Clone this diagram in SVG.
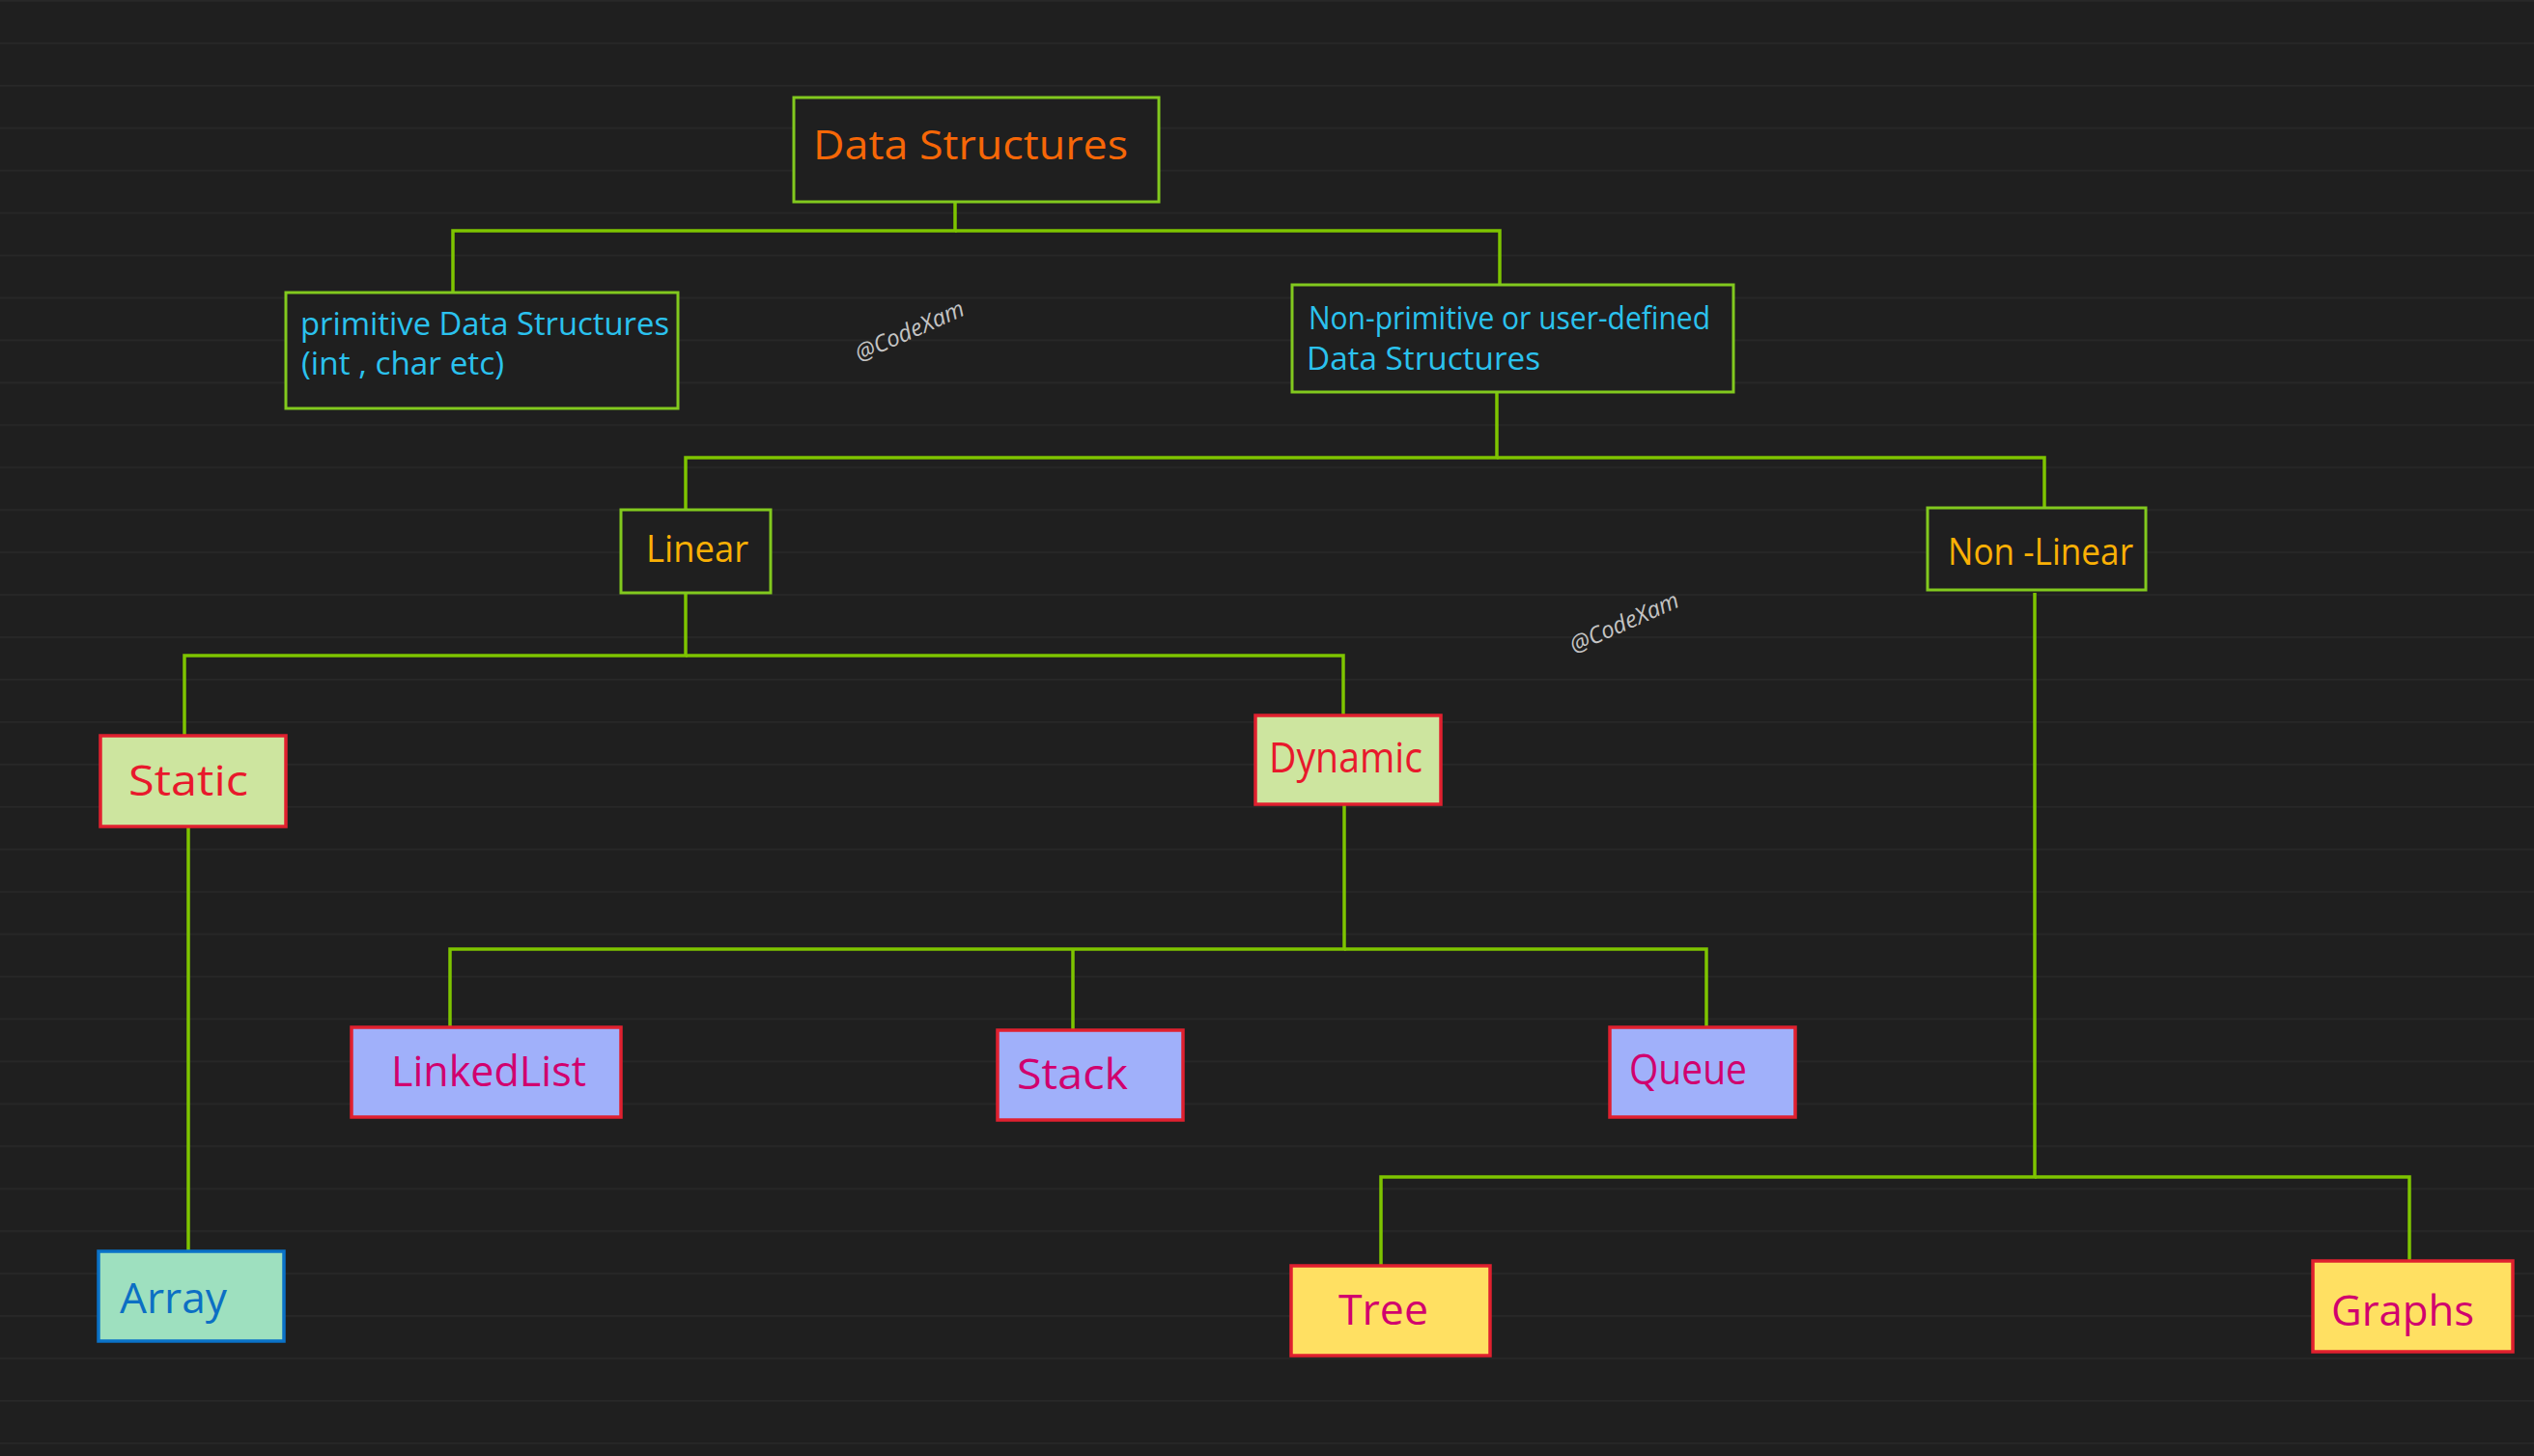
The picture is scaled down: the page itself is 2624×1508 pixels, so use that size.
<svg xmlns="http://www.w3.org/2000/svg" width="2624" height="1508" viewBox="0 0 2624 1508">
<defs>
<pattern id="grid" x="0" y="0" width="2624" height="43.94" patternUnits="userSpaceOnUse">
<rect x="0" y="0" width="2624" height="1.6" fill="#282828"/>
</pattern>
</defs>
<style>
.bg{fill:#1f1f1f}
.dark{fill:#1f1f1f;stroke:#82c91e;stroke-width:3}
.green{fill:#cde59f;stroke:#e0202f;stroke-width:3.5}
.purple{fill:#a0b0fa;stroke:#e0202f;stroke-width:3.5}
.yellow{fill:#ffe062;stroke:#e0202f;stroke-width:3.5}
.teal{fill:#9ee0bf;stroke:#0a72c8;stroke-width:3.5}
.conn path{fill:none;stroke:#7ec400;stroke-width:3.5;stroke-linejoin:miter}
text{font-family:"Open Sans","Noto Sans","DejaVu Sans",sans-serif}
.orange{fill:#f76707;font-size:42px}
.cyan{fill:#2bc2ee;font-size:32px}
.amber{fill:#fab005;font-size:38px}
.red{fill:#e8192c;font-size:44px}
.mag{fill:#d1006e;font-size:44px}
.blue{fill:#0c6fc4;font-size:44px}
.wm{fill:#c4c4c4;font-size:24px;font-style:italic}
</style>
<rect class="bg" x="0" y="0" width="2624" height="1508"/>
<rect x="0" y="0" width="2624" height="1508" fill="url(#grid)"/>

<g id="connectors" class="conn">
<path d="M989,209 V239 H469 V302"/>
<path d="M989,239 H1553 V295"/>
<path d="M1550,407 V474 H710 V527"/>
<path d="M1550,474 H2117 V526"/>
<path d="M710,614 V679 H191 V762"/>
<path d="M710,679 H1391 V740"/>
<path d="M195,857 V1295"/>
<path d="M1392,833 V983 H466 V1063"/>
<path d="M1111,983 V1066"/>
<path d="M1392,983 H1767 V1064"/>
<path d="M2107,614 V1219 H1430 V1311"/>
<path d="M2107,1219 H2495 V1306"/>
</g>

<g id="node-data-structures">
<rect class="dark" x="822" y="101" width="378" height="108"/>
<text class="orange" x="842" y="165" textLength="326" lengthAdjust="spacingAndGlyphs">Data Structures</text>
</g>

<g id="node-primitive">
<rect class="dark" x="296" y="303" width="406" height="120"/>
<text class="cyan" x="311" y="347" textLength="382" lengthAdjust="spacingAndGlyphs">primitive Data Structures</text>
<text class="cyan" x="312" y="388" textLength="210" lengthAdjust="spacingAndGlyphs">(int , char etc)</text>
</g>

<g id="node-non-primitive">
<rect class="dark" x="1338" y="295" width="457" height="111"/>
<text class="cyan" x="1355" y="341" textLength="416" lengthAdjust="spacingAndGlyphs">Non-primitive or user-defined</text>
<text class="cyan" x="1353" y="383" textLength="242" lengthAdjust="spacingAndGlyphs">Data Structures</text>
</g>

<g id="node-linear">
<rect class="dark" x="643" y="528" width="155" height="86"/>
<text class="amber" x="669" y="582" textLength="106" lengthAdjust="spacingAndGlyphs">Linear</text>
</g>

<g id="node-non-linear">
<rect class="dark" x="1996" y="526" width="226" height="85"/>
<text class="amber" x="2017" y="585" textLength="192" lengthAdjust="spacingAndGlyphs">Non -Linear</text>
</g>

<g id="node-static">
<rect class="green" x="104" y="762" width="192" height="94"/>
<text class="red" x="133" y="824" textLength="124" lengthAdjust="spacingAndGlyphs">Static</text>
</g>

<g id="node-dynamic">
<rect class="green" x="1300" y="741" width="192" height="92"/>
<text class="red" x="1314" y="800" textLength="159" lengthAdjust="spacingAndGlyphs">Dynamic</text>
</g>

<g id="node-linkedlist">
<rect class="purple" x="364" y="1064" width="279" height="93"/>
<text class="mag" x="405" y="1125" textLength="202" lengthAdjust="spacingAndGlyphs">LinkedList</text>
</g>

<g id="node-stack">
<rect class="purple" x="1033" y="1067" width="192" height="93"/>
<text class="mag" x="1053" y="1128" textLength="115" lengthAdjust="spacingAndGlyphs">Stack</text>
</g>

<g id="node-queue">
<rect class="purple" x="1667" y="1064" width="192" height="93"/>
<text class="mag" x="1687" y="1123" textLength="122" lengthAdjust="spacingAndGlyphs">Queue</text>
</g>

<g id="node-array">
<rect class="teal" x="102" y="1296" width="192" height="93"/>
<text class="blue" x="124" y="1360" textLength="111" lengthAdjust="spacingAndGlyphs">Array</text>
</g>

<g id="node-tree">
<rect class="yellow" x="1337" y="1311" width="206" height="93"/>
<text class="mag" x="1386" y="1372" textLength="93" lengthAdjust="spacingAndGlyphs">Tree</text>
</g>

<g id="node-graphs">
<rect class="yellow" x="2395" y="1306" width="207" height="94"/>
<text class="mag" x="2414" y="1373" textLength="148" lengthAdjust="spacingAndGlyphs">Graphs</text>
</g>

<g id="watermarks">
<text class="wm" x="942" y="351" text-anchor="middle" transform="rotate(-24 942 343)">@CodeXam</text>
<text class="wm" x="1682" y="653" text-anchor="middle" transform="rotate(-24 1682 645)">@CodeXam</text>
</g>
</svg>
